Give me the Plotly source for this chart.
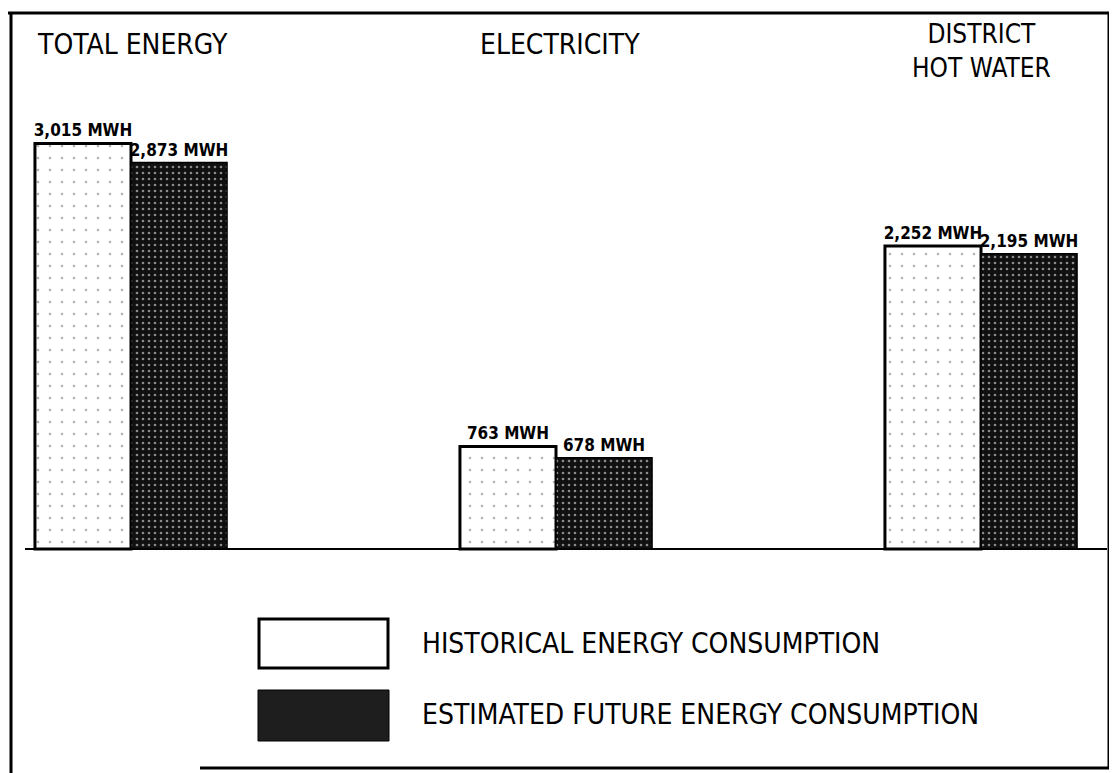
import plotly.graph_objects as go

# ---- data ----
categories = ["TOTAL ENERGY", "ELECTRICITY", "DISTRICT\nHOT WATER"]
series_names = ["HISTORICAL ENERGY CONSUMPTION", "ESTIMATED FUTURE ENERGY CONSUMPTION"]
historical = [3015, 763, 2252]
future = [2873, 678, 2195]
unit = "MWH"

W, H = 1117, 773      # browser window
OFF = 8               # default body margin of the page
FW, FH = W - OFF, H - OFF
FONT = "DejaVu Sans Condensed, Liberation Sans Narrow, DejaVu Sans, sans-serif"


def px(x):
    return (x - OFF) / FW


def py(y):
    return 1 - (y - OFF) / FH


cat_keys = [c.replace("\n", " ") for c in categories]

fig = go.Figure()
fig.add_trace(go.Bar(
    x=cat_keys, y=historical, name=series_names[0],
    marker=dict(color="white", line=dict(color="black", width=3),
                pattern=dict(shape=".", fgcolor="#b4b4b4", bgcolor="white",
                             size=12, solidity=0.04, fillmode="replace")),
    texttemplate="%{y:,} " + unit, textposition="outside", constraintext="none",
    textfont=dict(family=FONT, size=17, color="black", weight="bold"),
    cliponaxis=False, showlegend=False,
))
fig.add_trace(go.Bar(
    x=cat_keys, y=future, name=series_names[1],
    marker=dict(color="#101010", line=dict(color="black", width=1.5),
                pattern=dict(shape=".", fgcolor="#8a8a8a", bgcolor="#101010",
                             size=6, solidity=0.16, fillmode="replace")),
    texttemplate="%{y:,} " + unit, textposition="outside", constraintext="none",
    textfont=dict(family=FONT, size=17, color="black", weight="bold"),
    cliponaxis=False, showlegend=False,
))

# axis scaling: baseline at page row 549, ~0.1345 px per MWh
scale = 0.1345
base_row = 549 - OFF
ymin = -(FH - base_row) / scale
ymax = ymin + FH / scale
# categories centred at page columns 131 .. 981 (425 px apart)
c0, step = 131 - OFF, 425
xr = [(0 - c0) / step, (FW - c0) / step]

shapes = []
# outer frame
frame = dict(type="line", xref="paper", yref="paper", line=dict(color="black", width=3))
shapes.append({**frame, "x0": px(8), "x1": px(1110), "y0": py(13), "y1": py(13)})
shapes.append({**frame, "x0": px(11), "x1": px(11), "y0": py(12), "y1": py(773)})
shapes.append({**frame, "x0": px(1109), "x1": px(1109), "y0": py(12), "y1": py(768)})
shapes.append({**frame, "x0": px(200), "x1": px(1110), "y0": py(768), "y1": py(768)})
# baseline
shapes.append(dict(type="line", xref="paper", yref="y", x0=px(25), x1=px(1107), y0=0, y1=0,
                   line=dict(color="black", width=2), layer="below"))
# legend swatches
shapes.append(dict(type="rect", xref="paper", yref="paper", x0=px(259), x1=px(388),
                   y0=py(668), y1=py(619), fillcolor="white", line=dict(color="black", width=3)))
shapes.append(dict(type="rect", xref="paper", yref="paper", x0=px(258), x1=px(389),
                   y0=py(741), y1=py(690), fillcolor="#1e1e1e", line=dict(color="black", width=1)))

annotations = []
# category titles
title_pos = [(35, "left"), (560, "center"), (981, "center")]
for cat, (xp, anc) in zip(categories, title_pos):
    multi = "\n" in cat
    annotations.append(dict(text=cat.replace("\n", "<br>"), xref="paper", yref="paper",
                            x=px(xp), y=py(51 if multi else 44),
                            xanchor=anc, yanchor="middle", align="center", showarrow=False,
                            font=dict(family=FONT, size=26 if multi else 28, color="black")))
# legend labels
for name, yc in zip(series_names, [643, 714]):
    annotations.append(dict(text=name, xref="paper", yref="paper", x=px(420), y=py(yc),
                            xanchor="left", yanchor="middle", showarrow=False,
                            font=dict(family=FONT, size=28, color="black")))

fig.update_layout(
    width=FW, height=FH, autosize=False,
    margin=dict(l=0, r=0, t=0, b=0),
    paper_bgcolor="white", plot_bgcolor="white",
    barmode="group", bargap=0.548, bargroupgap=0,
    xaxis=dict(range=xr, showticklabels=False, showgrid=False, zeroline=False,
               showline=False, ticks=""),
    yaxis=dict(range=[ymin, ymax], showticklabels=False, showgrid=False, zeroline=False,
               showline=False, ticks=""),
    shapes=shapes, annotations=annotations,
)

fig.write_html("out.html")
